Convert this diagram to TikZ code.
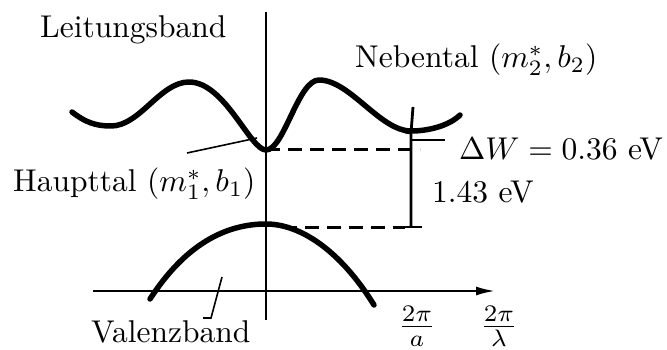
\documentclass[tikz,border=0pt]{standalone}
\usetikzlibrary{arrows.meta}
\newcommand{\bigtxt}[1]{\scalebox{3.15}{#1}}
\begin{document}
\begin{tikzpicture}[x=1pt,y=-1pt,
  txt/.style={inner sep=0pt, anchor=base west},
  frac/.style={inner sep=0pt, anchor=base},
  band/.style={line width=5.5pt, line cap=round, line join=round},
  axis/.style={line width=2.8pt},
  level/.style={line width=3pt, dash pattern=on 14pt off 8pt},
  meas/.style={line width=2.8pt},
  pointer/.style={line width=1.6pt}]
\useasboundingbox (0,0) rectangle (667,350);
% axes
\coordinate (ytop) at (266,12);
\coordinate (ybot) at (266,320);
\coordinate (xl) at (93,291);
\coordinate (xr) at (496,291);
\draw[axis] (ybot) -- (ytop);
\draw[axis, -{Latex[length=20pt,width=9pt]}] (xl) -- (xr);
% conduction band
\draw[band] (72,112) .. controls (85,122) and (95,126) .. (111,126)
  .. controls (140,126) and (160,82) .. (189,82)
  .. controls (225,82) and (250,150) .. (266,150)
  .. controls (284,150) and (298,80) .. (319,80)
  .. controls (350,80) and (380,131) .. (411,131)
  .. controls (430,131) and (450,125) .. (460,115);
% valence band
\draw[band] (150,299) .. controls (185,245) and (225,224) .. (266,224)
  .. controls (300,224) and (340,250) .. (374,305);
% levels
\coordinate (cmin) at (266,150);
\coordinate (cend) at (420,150);
\coordinate (vmax) at (283,227);
\coordinate (vend) at (405,227);
\draw[level] (cmin) -- (cend);
\draw[level] (vmax) -- (vend);
% measurement
\coordinate (mtop) at (413,107);
\coordinate (mmid) at (411,133);
\coordinate (mbot) at (411,227);
\coordinate (btl) at (394,227);
\coordinate (btr) at (422,227);
\coordinate (ttl) at (405,132);
\coordinate (dwa) at (411,140);
\coordinate (dwb) at (445,140);
\draw[meas] (mtop) -- (mmid) -- (mbot);
\draw[meas] (btl) -- (btr);
\draw[meas] (ttl) -- (mmid);
\draw[pointer] (dwa) -- (dwb);
% labels
\node[txt] (lb) at (40,38) {\bigtxt{Leitungsband}};
\node[txt] (nb) at (355,68) {\bigtxt{Nebental $(m_2^*,b_2)$}};
\node[txt] (ht) at (13,192) {\bigtxt{Haupttal $(m_1^*,b_1)$}};
\node[txt] (dw) at (459,160) {\bigtxt{$\Delta W = 0.36$ eV}};
\node[txt] (eg) at (432,202) {\bigtxt{1.43 eV}};
\node[txt] (vb) at (91,342) {\bigtxt{Valenzband}};
\node[frac] (ka) at (417,335) {\scalebox{3.4}{$\frac{2\pi}{a}$}};
\node[frac] (kl) at (499,335) {\scalebox{3.4}{$\frac{2\pi}{\lambda}$}};
% pointers
\coordinate (hpa) at (187,153);
\coordinate (hpb) at (257,138);
\draw[pointer] (hpa) -- (hpb);
\coordinate (vpa) at (203,318);
\coordinate (vpb) at (211,318);
\coordinate (vpc) at (222,277);
\draw[pointer] (vpa) -- (vpb) -- (vpc);
\end{tikzpicture}
\end{document}
